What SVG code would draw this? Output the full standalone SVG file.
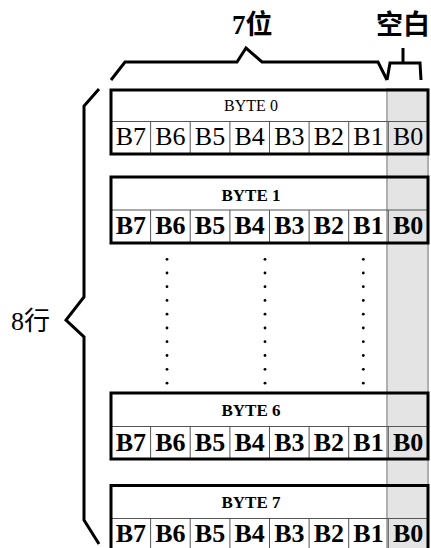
<svg xmlns="http://www.w3.org/2000/svg" width="431" height="548" viewBox="0 0 431 548">
<style>
.frame{fill:none;stroke:#000;stroke-width:3}
.div{stroke:#555;stroke-width:1;fill:none}
.brace{fill:none;stroke:#000;stroke-width:3;stroke-linejoin:miter}
.cell{font-family:"Liberation Serif","DejaVu Serif",serif;font-size:26px;text-anchor:middle;fill:#000}
.b{font-weight:bold;font-size:26px}
.lab{font-family:"Liberation Serif","DejaVu Serif",serif;font-size:16px;text-anchor:middle;fill:#000}
.lb{font-weight:bold;font-size:17px}
.title{font-family:"Liberation Serif","Noto Sans CJK SC",serif;font-size:27px;font-weight:bold;fill:#000}
.side{font-family:"Liberation Serif","Noto Sans CJK SC",serif;font-size:26px;fill:#000}
.dot{fill:#000}
</style>
<rect x="0" y="0" width="431" height="548" fill="#fff"/>
<rect id="blank-column" x="387" y="89" width="41" height="470" fill="#e4e4e4" stroke="#b0b0b0" stroke-width="2"/>

<g id="braces">
<path class="brace" d="M111,80L125,62H237L246,48L262,62H378L387,80"/>
<path class="brace" d="M387,80L390,63H420L421,80M403,63V48"/>
<path class="brace" d="M99,89L84,106V297L66,320L84,337V520L99,544"/>
</g>

<g id="labels">
<text class="title" x="232" y="34">7位</text>
<text class="title" x="376" y="34">空白</text>
<text class="side" x="11" y="330">8行</text>
</g>

<g id="byte0">
<path class="div" d="M111,121.5H428M150.6,121.5V154M190.2,121.5V154M229.9,121.5V154M269.5,121.5V154M309.1,121.5V154M348.7,121.5V154M388.3,121.5V154"/>
<rect class="frame" x="111" y="90" width="317" height="64"/>
<text class="lab" x="251" y="111">BYTE 0</text>
<g class="cell">
<text x="130.8" y="145">B7</text><text x="170.4" y="145">B6</text><text x="210" y="145">B5</text><text x="249.7" y="145">B4</text><text x="289.3" y="145">B3</text><text x="328.9" y="145">B2</text><text x="368.5" y="145">B1</text><text x="408.2" y="145">B0</text>
</g>
</g>

<g id="byte1">
<path class="div" d="M111,210H428M150.6,210V243M190.2,210V243M229.9,210V243M269.5,210V243M309.1,210V243M348.7,210V243M388.3,210V243"/>
<rect class="frame" x="111" y="177" width="317" height="66"/>
<text class="lab lb" x="251" y="201">BYTE 1</text>
<g class="cell b">
<text x="130.8" y="234">B7</text><text x="170.4" y="234">B6</text><text x="210" y="234">B5</text><text x="249.7" y="234">B4</text><text x="289.3" y="234">B3</text><text x="328.9" y="234">B2</text><text x="368.5" y="234">B1</text><text x="408.2" y="234">B0</text>
</g>
</g>

<g id="ellipsis">
<g class="dot">
<circle cx="167" cy="259.3" r="1.4"/><circle cx="167" cy="273" r="1.4"/><circle cx="167" cy="286.7" r="1.4"/><circle cx="167" cy="300.4" r="1.4"/><circle cx="167" cy="314.2" r="1.4"/><circle cx="167" cy="328" r="1.4"/><circle cx="167" cy="341.7" r="1.4"/><circle cx="167" cy="355.5" r="1.4"/><circle cx="167" cy="369.3" r="1.4"/><circle cx="167" cy="383.2" r="1.4"/>
<circle cx="265" cy="259.3" r="1.4"/><circle cx="265" cy="273" r="1.4"/><circle cx="265" cy="286.7" r="1.4"/><circle cx="265" cy="300.4" r="1.4"/><circle cx="265" cy="314.2" r="1.4"/><circle cx="265" cy="328" r="1.4"/><circle cx="265" cy="341.7" r="1.4"/><circle cx="265" cy="355.5" r="1.4"/><circle cx="265" cy="369.3" r="1.4"/><circle cx="265" cy="383.2" r="1.4"/>
<circle cx="363.3" cy="259.3" r="1.4"/><circle cx="363.3" cy="273" r="1.4"/><circle cx="363.3" cy="286.7" r="1.4"/><circle cx="363.3" cy="300.4" r="1.4"/><circle cx="363.3" cy="314.2" r="1.4"/><circle cx="363.3" cy="328" r="1.4"/><circle cx="363.3" cy="341.7" r="1.4"/><circle cx="363.3" cy="355.5" r="1.4"/><circle cx="363.3" cy="369.3" r="1.4"/><circle cx="363.3" cy="383.2" r="1.4"/>
</g>
</g>

<g id="byte6">
<path class="div" d="M111,426.5H428M150.6,426.5V459M190.2,426.5V459M229.9,426.5V459M269.5,426.5V459M309.1,426.5V459M348.7,426.5V459M388.3,426.5V459"/>
<rect class="frame" x="111" y="393" width="317" height="66"/>
<text class="lab lb" x="251" y="416">BYTE 6</text>
<g class="cell b">
<text x="130.8" y="451">B7</text><text x="170.4" y="451">B6</text><text x="210" y="451">B5</text><text x="249.7" y="451">B4</text><text x="289.3" y="451">B3</text><text x="328.9" y="451">B2</text><text x="368.5" y="451">B1</text><text x="408.2" y="451">B0</text>
</g>
</g>

<g id="byte7">
<path class="div" d="M111,518.5H428M150.6,518.5V552M190.2,518.5V552M229.9,518.5V552M269.5,518.5V552M309.1,518.5V552M348.7,518.5V552M388.3,518.5V552"/>
<rect class="frame" x="111" y="485.5" width="317" height="66"/>
<text class="lab lb" x="251" y="508">BYTE 7</text>
<g class="cell b">
<text x="130.8" y="542">B7</text><text x="170.4" y="542">B6</text><text x="210" y="542">B5</text><text x="249.7" y="542">B4</text><text x="289.3" y="542">B3</text><text x="328.9" y="542">B2</text><text x="368.5" y="542">B1</text><text x="408.2" y="542">B0</text>
</g>
</g>
</svg>
